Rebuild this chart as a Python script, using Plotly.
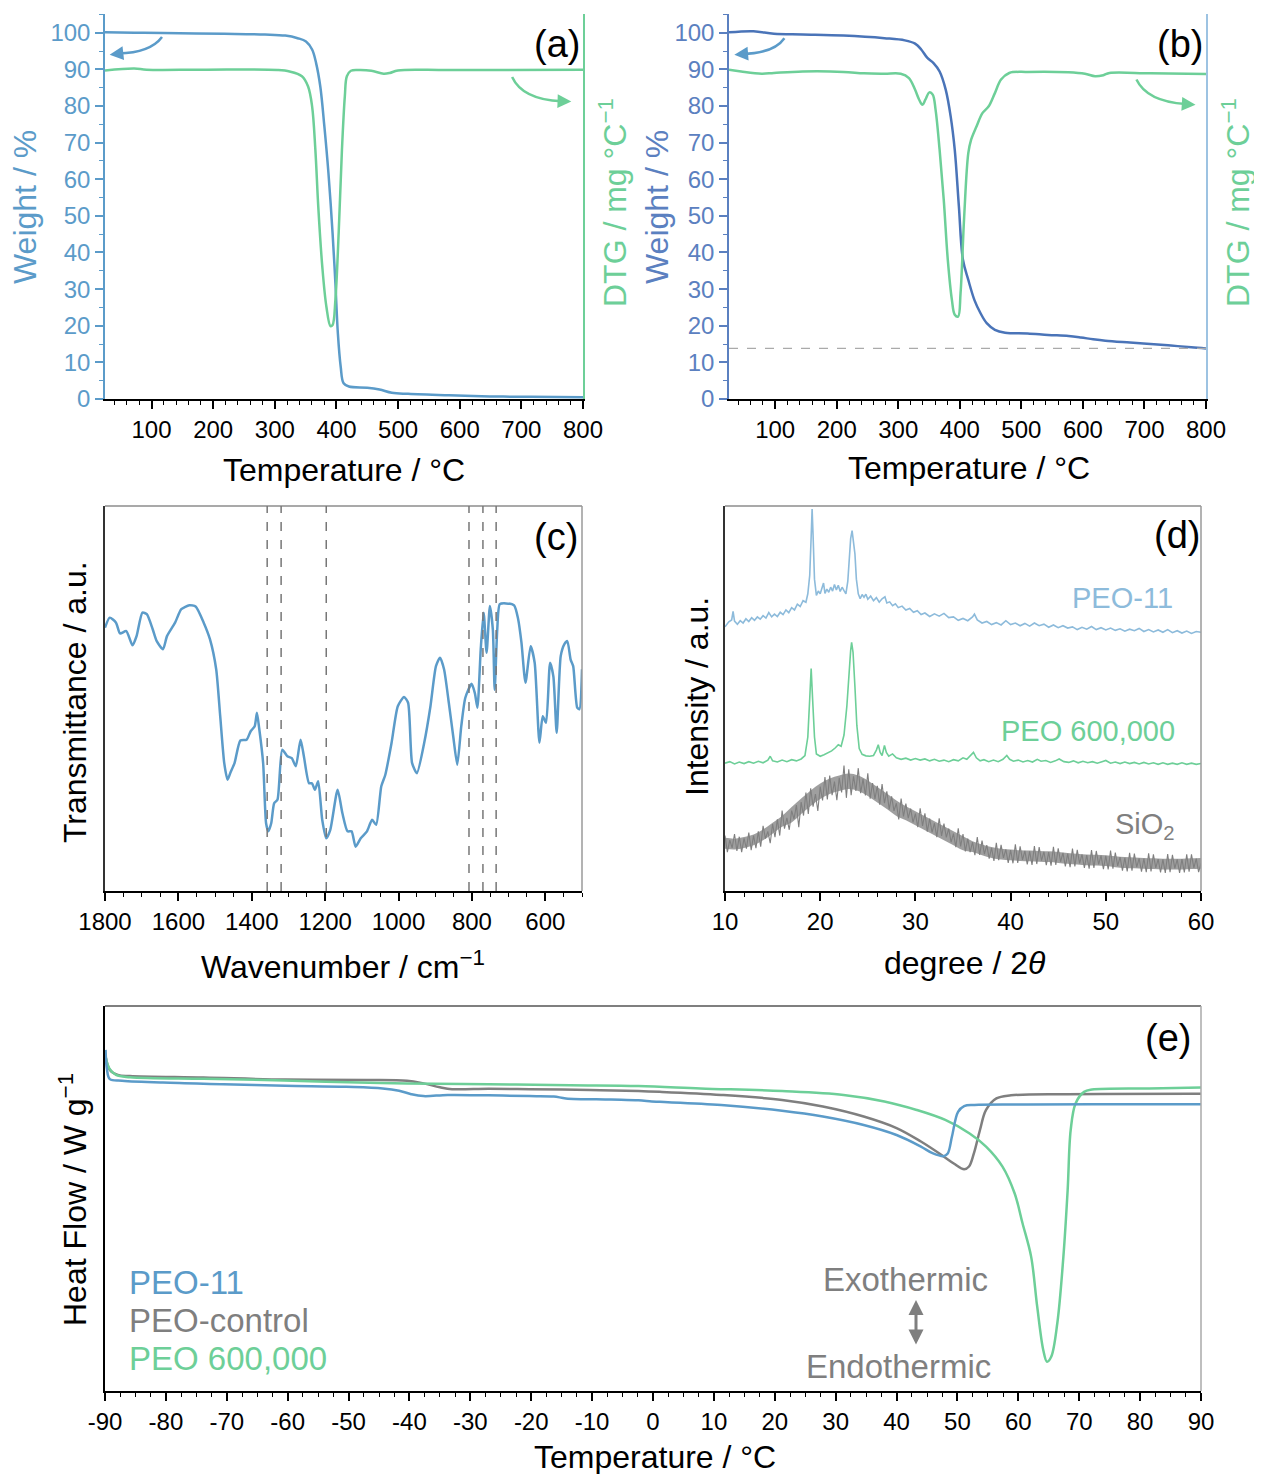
import plotly.graph_objects as go

# page size; the browser puts an 8 px body margin round the plot div
W, H = 1262, 1474
PAGE_OFF = 8
FW, FH = W - PAGE_OFF, H - PAGE_OFF

# ---------------- data ----------------
# (a) TGA of PEO-11
a_temp = [24.5, 72, 118.6, 218, 284, 317, 337, 350.6, 360.5, 367, 373.8, 380.4, 387, 393.7, 398.3,
          402.3, 406.9, 411.6, 420.2, 450, 469.9, 489.8, 516.3, 582.6, 648.9, 715.2, 800]
a_weight = [100.1, 100.0, 99.9, 99.7, 99.5, 99.2, 98.5, 97.6, 95.4, 91.7, 85.3, 74.4, 61.7, 45.3, 31.6,
            17.9, 8.8, 4.3, 3.4, 3.1, 2.6, 1.7, 1.4, 1.0, 0.7, 0.6, 0.5]
a_dtg_temp = [24.5, 72, 92, 184.9, 304, 324, 344, 354, 360.5, 365.8, 370.5, 377, 383.7, 390.3, 393.7,
              398.3, 403.6, 408.9, 413.6, 416.9, 423.5, 436.8, 456.6, 476.5, 486.5, 499.7, 582.6, 800]
a_dtg = [89.7, 90.2, 89.9, 89.9, 89.8, 89.4, 88.1, 85.3, 79.9, 68.0, 52.5, 36.2, 25.2, 19.9, 20.2,
         27.1, 45.3, 68.0, 82.6, 88.1, 89.6, 89.8, 89.6, 88.8, 89.0, 89.7, 89.8, 89.9]

# (b) TGA of the composite
b_temp = [25, 64.8, 98, 144.5, 211, 277.5, 310.7, 327.4, 337.3, 347.3, 357.3, 367.2, 377.2, 385.2,
          391.8, 398.5, 405.1, 413.8, 423.8, 433.7, 443.7, 457, 473.6, 510.2, 543.4, 576.7, 596.6,
          616.6, 636.5, 676.4, 709.6, 742.9, 776.1, 800]
b_weight = [100.1, 100.4, 99.7, 99.5, 99.2, 98.5, 97.9, 97.0, 95.4, 93.1, 91.7, 89.4, 84.4, 77.1,
            68.0, 52.6, 38.0, 32.5, 27.0, 23.4, 20.7, 18.9, 18.1, 17.9, 17.5, 17.2, 16.8,
            16.3, 15.9, 15.4, 15.0, 14.6, 14.1, 13.8]
b_dtg_temp = [25, 44.8, 78, 98, 144.5, 211, 244.3, 277.5, 304, 317.4, 327.4, 334, 339.3, 344, 350.6,
              356, 360.6, 367.2, 373.9, 380.5, 387.2, 391.8, 397.2, 401.2, 407.1, 413.8, 418.4,
              427.1, 437, 447, 457, 467, 480.3, 510.2, 576.7, 603.3, 619.9, 633.2, 643.1, 709.6, 800]
b_dtg = [89.9, 89.4, 88.8, 89.0, 89.4, 89.3, 88.9, 88.8, 88.8, 87.6, 84.4, 81.7, 80.3, 81.7, 83.7,
         83.1, 79.0, 68.0, 54.4, 38.0, 27.0, 23.0, 22.5, 28.9, 49.8, 67.1, 70.8,
         74.4, 78.1, 79.9, 83.5, 87.2, 89.0, 89.3, 89.2, 88.8, 88.1, 88.4, 89.0, 88.9, 88.7]
b_residue = 13.8

# (c) FTIR
c_wn = [1800, 1787, 1770, 1759, 1742, 1725, 1714, 1698, 1686, 1670, 1659, 1642, 1631, 1609, 1592,
        1570, 1553, 1531, 1514, 1497, 1486, 1475, 1466, 1458, 1447, 1431, 1414, 1403, 1392, 1386,
        1380, 1369, 1361, 1355, 1347, 1339, 1330, 1317, 1303, 1291, 1280, 1267, 1258, 1244, 1236,
        1228, 1219, 1208, 1197, 1186, 1166, 1153, 1139, 1128, 1117, 1103, 1086, 1072, 1061, 1047,
        1036, 1019, 1002, 985, 974, 963, 950, 930, 913, 898, 887, 876, 863, 851, 840, 829, 818,
        801, 792, 785, 776, 768, 760, 751, 743, 738, 731, 724, 707, 685, 674, 665, 654, 640, 629,
        616, 607, 598, 587, 578, 569, 558, 548, 540, 531, 524, 513, 507, 500]
c_trans = [68.4, 71.0, 69.7, 66.9, 67.5, 63.8, 66.2, 72.3, 71.9, 68.0, 64.9, 62.8, 66.2, 69.7, 73.2,
           74.2, 73.9, 69.7, 65.4, 57.6, 45.4, 33.2, 28.9, 30.8, 33.2, 39.1, 39.3, 41.5, 42.8, 46.3,
           42.4, 33.2, 17.6, 15.5, 17.6, 22.8, 23.7, 36.7, 35.0, 34.5, 32.4, 39.3, 35.0, 28.0, 28.0,
           26.3, 28.5, 18.5, 13.7, 15.9, 26.3, 20.2, 15.5, 15.5, 11.5, 13.7, 15.5, 18.5, 17.2, 27.2,
           30.2, 38.5, 48.0, 50.4, 48.9, 33.2, 30.6, 38.5, 48.0, 58.4, 60.6, 57.6, 48.9, 40.2, 32.8,
           42.8, 50.2, 53.8, 51.4, 47.6, 62.8, 72.3, 61.9, 74.0, 67.9, 52.3, 67.9, 74.5, 74.7, 74.2,
           70.6, 64.5, 54.1, 63.6, 59.3, 38.5, 45.4, 43.7, 59.3, 55.7, 41.1, 61.0, 64.1, 64.9, 60.1,
           58.4, 47.6, 47.2, 57.6]
c_bands = [1358, 1320, 1197, 808, 770, 734]

# (d) XRD
d_peo11_x = [10.0, 10.4, 10.7, 10.85, 11.0, 11.3, 11.6, 11.9, 12.2, 12.5, 12.8, 13.1, 13.4, 13.7,
             14.0, 14.3, 14.6, 14.9, 15.2, 15.5, 15.8, 16.1, 16.4, 16.7, 17.0, 17.3, 17.6, 17.9,
             18.2, 18.5, 18.7, 18.9, 19.05, 19.15, 19.25, 19.4, 19.6, 19.8, 20.0, 20.2, 20.35,
             20.5, 20.7, 20.9, 21.1, 21.3, 21.5, 21.7, 21.9, 22.1, 22.3, 22.5, 22.7, 22.9, 23.05,
             23.2, 23.35, 23.5, 23.65, 23.8, 24.0, 24.2, 24.4, 24.6, 24.8, 25.0, 25.3, 25.6, 25.9,
             26.2, 26.5, 26.8, 27.0, 27.3, 27.6, 27.9, 28.2, 28.6, 29.0, 29.4, 29.8, 30.2, 30.6,
             31.0, 31.5, 32.0, 32.5, 33.0, 33.5, 34.0, 34.5, 35.0, 35.5, 36.0, 36.2, 36.5, 37.0,
             37.5, 38.0, 38.5, 39.0, 39.5, 40.0, 40.5, 41.0, 41.5, 42.0, 42.5, 43.0, 43.5, 44.0,
             44.5, 45.0, 45.5, 46.0, 46.5, 47.0, 47.5, 48.0, 48.5, 49.0, 49.5, 50.0, 50.5, 51.0,
             51.5, 52.0, 52.5, 53.0, 53.5, 54.0, 54.5, 55.0, 55.5, 56.0, 56.5, 57.0, 57.5, 58.0,
             58.5, 59.0, 59.5, 60.0]
d_peo11_y = [68.6, 69.9, 70.4, 72.6, 70.1, 69.3, 70.2, 69.6, 70.7, 70.0, 71.0, 70.3, 71.2, 70.6,
             71.5, 70.9, 72.3, 71.2, 71.9, 71.3, 72.4, 71.8, 73.0, 72.3, 73.6, 73.0, 74.5, 73.9,
             75.4, 75.0, 77.2, 82.0, 92.0, 99.2, 92.5, 81.0, 76.8, 77.9, 77.2, 78.6, 80.0,
             77.3, 78.4, 77.6, 78.9, 77.9, 79.6, 78.2, 79.4, 77.8, 78.9, 78.0, 77.2, 80.5, 87.0,
             91.5, 93.6, 90.5, 87.5, 81.0, 77.2, 75.9, 77.0, 76.3, 77.1, 75.8, 76.6, 75.4, 76.2,
             75.0, 75.9, 76.4, 74.8, 75.1, 74.1, 74.6, 73.6, 74.0, 73.0, 73.4, 72.4, 72.8, 71.8,
             72.2, 71.3, 72.0, 71.4, 72.1, 71.0, 71.2, 70.3, 70.8, 70.2, 71.2, 71.9, 70.4, 69.6,
             70.0, 69.2, 69.7, 69.1, 70.2, 69.2, 69.6, 68.9, 69.5, 68.8, 69.6, 68.9, 69.3, 68.5,
             69.1, 68.4, 68.9, 68.3, 68.6, 67.9, 68.5, 68.0, 68.7, 67.9, 68.4, 67.8, 68.3, 67.7,
             68.1, 67.5, 68.0, 67.6, 68.2, 67.4, 67.9, 67.3, 67.8, 67.2, 67.9, 67.1, 67.6, 67.0,
             67.5, 66.9, 67.4, 67.2]
d_peo600_x = [10.0, 10.5, 11.0, 11.5, 12.0, 12.5, 13.0, 13.5, 14.0, 14.5, 14.75, 15.0, 15.5, 16.0,
              16.5, 17.0, 17.5, 18.0, 18.4, 18.7, 18.9, 19.05, 19.2, 19.4, 19.6, 20.0, 20.4, 20.8,
              21.2, 21.6, 21.9, 22.2, 22.5, 22.8, 23.0, 23.2, 23.3, 23.45, 23.65, 23.85, 24.1,
              24.4, 24.8, 25.2, 25.6, 25.9, 26.1, 26.3, 26.5, 26.75, 26.95, 27.2, 27.6, 28.0, 28.5,
              29.0, 29.5, 30.0, 30.5, 31.0, 31.5, 32.0, 32.5, 33.0, 33.5, 34.0, 34.5, 35.0, 35.4,
              35.9, 36.1, 36.4, 36.8, 37.2, 37.7, 38.2, 38.7, 39.2, 39.6, 39.9, 40.3, 40.8, 41.3,
              41.8, 42.3, 42.8, 43.2, 43.7, 44.2, 44.7, 45.1, 45.6, 46.1, 46.6, 47.1, 47.6, 48.1,
              48.6, 49.1, 49.6, 50.0, 50.5, 51.0, 51.5, 52.0, 52.5, 53.0, 53.5, 54.0, 54.5, 55.0,
              55.5, 56.0, 56.5, 57.0, 57.5, 58.0, 58.5, 59.0, 59.5, 60.0]
d_peo600_y = [33.2, 33.6, 33.0, 33.5, 33.1, 33.6, 33.2, 33.7, 33.3, 34.0, 35.0, 33.8, 33.5, 34.0,
              33.6, 34.1, 33.8, 34.3, 35.2, 40.0, 50.0, 57.8, 50.0, 40.0, 35.6, 35.0, 35.4, 35.8,
              36.4, 37.2, 38.0, 37.6, 40.5, 48.0, 56.0, 62.5, 64.6, 62.0, 53.0, 43.0, 37.0,
              35.5, 35.1, 35.0, 35.2, 36.6, 38.0, 36.0, 35.2, 37.8, 36.0, 35.0, 35.6, 34.6, 34.2,
              34.5, 34.0, 34.4, 34.0, 34.3, 33.8, 34.2, 33.7, 34.0, 33.6, 34.1, 33.8, 34.6, 34.2,
              35.4, 36.0, 34.6, 33.8, 34.1, 33.6, 34.0, 33.6, 34.2, 35.2, 34.2, 33.7, 34.0, 33.5,
              33.9, 33.5, 34.2, 33.7, 33.9, 33.4, 33.8, 34.3, 33.6, 33.4, 33.8, 33.3, 33.7, 33.3,
              33.6, 33.2, 33.6, 33.9, 33.2, 33.5, 33.1, 33.5, 33.1, 33.4, 33.0, 33.4, 33.0, 33.3,
              32.9, 33.3, 32.9, 33.2, 32.9, 33.3, 32.9, 33.2, 32.9, 33.1]
# SiO2 scan: one reading every 0.25 degree starting at 10 degrees
d_sio2_start, d_sio2_step = 10.0, 0.25
d_sio2_y = [14.4, 10.1, 13.2, 11.2, 14.8, 10.4, 14.1, 10.1, 13.7, 11.0, 15.2, 10.6,
            14.4, 11.1, 15.5, 11.5, 16.9, 13.6, 15.5, 12.4, 17.4, 14.0, 18.6, 14.4,
            20.9, 16.2, 19.0, 15.9, 20.9, 18.7, 22.3, 16.6, 23.1, 19.6, 25.6, 20.0,
            26.7, 21.9, 25.2, 20.8, 27.1, 23.5, 29.6, 23.8, 30.0, 24.9, 28.4, 23.6,
            29.4, 25.6, 32.6, 24.2, 31.6, 24.9, 29.8, 26.0, 31.9, 25.4, 29.1, 24.8,
            30.6, 24.0, 28.0, 23.9, 27.3, 22.4, 27.8, 22.8, 25.9, 21.2, 24.6, 20.8,
            22.8, 18.6, 24.0, 19.4, 22.7, 18.9, 21.4, 17.8, 20.1, 16.6, 21.5, 16.9,
            20.2, 15.4, 18.8, 15.2, 17.6, 14.0, 18.9, 14.3, 17.5, 13.9, 16.2, 12.7,
            14.9, 11.4, 16.3, 11.6, 14.8, 10.3, 13.6, 10.1, 12.7, 9.3, 14.0, 9.4,
            13.1, 9.6, 11.9, 8.4, 11.2, 7.8, 12.5, 8.0, 12.0, 8.6, 10.8, 7.3,
            10.6, 7.2, 12.1, 7.3, 11.6, 8.1, 10.4, 6.9, 10.3, 6.8, 11.7, 7.0,
            11.4, 7.9, 10.2, 6.7, 10.1, 6.6, 11.5, 6.8, 11.1, 7.6, 9.9, 6.4,
            9.7, 6.2, 11.0, 6.4, 10.7, 7.2, 9.5, 6.0, 9.3, 5.8, 10.6, 6.0,
            10.4, 6.9, 9.2, 5.7, 9.1, 5.6, 10.5, 5.8, 10.0, 6.5, 8.8, 5.3,
            8.6, 5.1, 9.9, 5.3, 9.7, 6.2, 8.5, 5.0, 8.4, 4.9, 9.8, 5.1,
            9.5, 6.0, 8.3, 4.8, 8.2, 4.7, 9.6, 4.9, 9.4, 5.9, 8.2, 4.7,
            8.3, 4.8, 9.5, 5.0, 9.5, 6.0, 8.4, 4.9, 7.2]
d_sio2_x = [d_sio2_start + d_sio2_step * i for i in range(len(d_sio2_y))]
# envelope of the dense SiO2 noise band, one value per degree (10..60)
d_sio2_env_x = list(range(10, 61))
d_sio2_upper = [13.8, 13.6, 14.0, 14.7, 16.0, 17.7, 19.5,
                21.8, 24.0, 26.1, 27.9, 29.2, 30.0, 30.5, 30.0, 28.7, 27.0, 25.3, 23.5,
                22.0, 20.7, 19.4, 18.1, 16.8, 15.5, 14.2,
                12.9, 12.1, 11.4, 11.0, 10.8, 10.6, 10.5, 10.4, 10.3, 10.1, 9.9, 9.7, 9.5, 9.4,
                9.3, 9.0, 8.8, 8.7, 8.6, 8.5, 8.4, 8.4, 8.4, 8.5, 8.6]
d_sio2_lower = [11.0, 10.8, 11.2, 11.9, 13.2, 14.9, 16.7,
                17.8, 20.0, 22.1, 23.9, 25.2, 26.0, 26.5, 26.0, 24.7, 23.0, 21.3, 19.5,
                18.4, 17.1, 15.8, 14.5, 13.2, 11.9, 10.6,
                10.1, 9.3, 8.6, 8.2, 8.0, 7.8, 7.7, 7.6, 7.5, 7.3, 7.1, 6.9, 6.7, 6.6,
                6.5, 6.2, 6.0, 5.9, 5.8, 5.7, 5.6, 5.6, 5.6, 5.7, 5.8]

# (e) DSC
e_peo11_t = [-89.9, -89.7, -89.2, -87.2, -80.5, -70.5, -60.4, -50.4, -44.4, -41.7, -39.7, -37.7,
             -33.7, -27.0, -20.3, -16.3, -14.3, -6.9, -2.4, -0.2, 1.1, 11.2, 21.2, 27.9, 34.6,
             40.0, 44.0, 46.0, 47.7, 48.4, 49.1, 50.1, 51.1, 52.8, 61.5, 74.9, 90]
e_peo11_h = [88.6, 83.8, 81.0, 80.6, 80.1, 79.7, 79.3, 79.0, 78.6, 78.0, 77.1, 76.6,
             76.9, 76.8, 76.6, 76.5, 76.0, 75.7, 75.5, 75.2, 75.1, 74.3, 72.8, 71.3, 69.1,
             66.5, 63.5, 61.7, 61.0, 61.7, 66.1, 72.5, 74.0, 74.3, 74.4, 74.5, 74.5]
e_ctrl_t = [-89.9, -89.2, -87.9, -85.9, -73.8, -60.4, -47.1, -40.4, -37.7, -35.0, -33.0, -27.0,
            -20.3, -10.3, -2.4, 1.1, 11.2, 21.2, 27.9, 34.6, 40.0, 44.0, 47.4, 49.4, 51.1, 51.9,
            52.7, 53.7, 54.7, 56.4, 58.8, 68.1, 90]
e_ctrl_h = [86.8, 83.4, 82.1, 81.8, 81.4, 80.9, 80.8, 80.6, 79.9, 78.9, 78.4, 78.5,
            78.4, 78.2, 77.9, 77.7, 76.9, 75.6, 73.9, 71.3, 68.3, 64.8, 61.3, 59.1, 57.6, 58.3,
            61.7, 67.8, 73.0, 76.0, 76.8, 77.1, 77.2]
e_peo600_t = [-89.9, -89.3, -88.2, -85.9, -73.8, -63.8, -53.7, -40.4, -27.0, -13.6, -2.4, 7.8, 21.2,
              31.3, 38.0, 43.3, 48.0, 52.0, 54.7, 57.4, 59.4, 60.7, 62.1, 63.1, 64.1, 64.7, 65.4,
              66.4, 67.4, 68.1, 68.6, 69.4, 70.8, 72.1, 81.5, 90]
e_peo600_h = [86.8, 83.8, 82.1, 81.5, 81.1, 80.8, 80.3, 79.9, 79.7, 79.4, 79.2, 78.6, 77.9,
              76.9, 75.2, 73.0, 70.4, 66.9, 63.5, 58.3, 51.3, 43.5, 34.9, 21.9, 10.6, 7.6, 8.9,
              17.6, 34.9, 52.2, 67.8, 74.7, 77.7, 78.3, 78.6, 78.8]
e_tickvals = [-90, -80, -70, -60, -50, -40, -30, -20, -10, 0, 10, 20, 30, 40, 50, 60, 70, 80, 90]
e_ticktext = ["-90", "-80", "-70", "-60", "-50", "-40", "-30", "-20", "-10", "0",
              "10", "20", "30", "40", "50", "60", "70", "80", "90"]

# ---------------- styling ----------------
BLUE = "#5B9BC9"
BLUE_DARK = "#4A74B8"
BLUE_AX_B = "#5B80C0"
BLUE_LIGHT = "#8DBBDB"
GREEN = "#6DCF98"
GRAY = "#7F7F7F"
FONT = "Liberation Sans, Arial, sans-serif"
TICK_SIZE = 24
TITLE_SIZE = 32


# page pixel -> paper fraction
def fx(p):
    return (p - PAGE_OFF) / FW


def fy(p):
    return 1 - (p - PAGE_OFF) / FH


def dom_x(a, b):
    return [fx(a), fx(b)]


def dom_y(top, bottom):
    return [fy(bottom), fy(top)]


tick_font = dict(family=FONT, size=TICK_SIZE, color="black")


def bottom_axis(domain, rng, anchor, dtick, minor, tick0=0, **kw):
    d = dict(domain=domain, range=rng, anchor=anchor, showline=True, linecolor="black", linewidth=1.5,
             ticks="outside", ticklen=8, tickwidth=1.5, tickcolor="black", dtick=dtick, tick0=tick0,
             minor=dict(dtick=minor, tick0=tick0, ticks="outside", ticklen=4, tickwidth=1.2,
                        tickcolor="black", showgrid=False),
             showgrid=False, zeroline=False, tickfont=tick_font, automargin=False)
    d.update(kw)
    return d


fig = go.Figure()

# (a)
fig.add_trace(go.Scatter(x=a_temp, y=a_weight, mode="lines", line=dict(color=BLUE, width=2.5, shape="spline"),
                         xaxis="x", yaxis="y", showlegend=False))
fig.add_trace(go.Scatter(x=a_dtg_temp, y=a_dtg, mode="lines", line=dict(color=GREEN, width=2.5, shape="spline"),
                         xaxis="x", yaxis="y2", showlegend=False))
# (b)
fig.add_trace(go.Scatter(x=b_temp, y=b_weight, mode="lines", line=dict(color=BLUE_DARK, width=2.5, shape="spline"),
                         xaxis="x2", yaxis="y3", showlegend=False))
fig.add_trace(go.Scatter(x=b_dtg_temp, y=b_dtg, mode="lines", line=dict(color=GREEN, width=2.5, shape="spline"),
                         xaxis="x2", yaxis="y4", showlegend=False))
# (c)
fig.add_trace(go.Scatter(x=c_wn, y=c_trans, mode="lines",
                         line=dict(color=BLUE, width=2.5, shape="spline", smoothing=0.6),
                         xaxis="x3", yaxis="y5", showlegend=False))
# (d)
fig.add_trace(go.Scatter(x=d_sio2_env_x, y=d_sio2_lower, mode="lines",
                         line=dict(width=0, color=GRAY, shape="spline"),
                         xaxis="x4", yaxis="y6", showlegend=False, hoverinfo="skip"))
fig.add_trace(go.Scatter(x=d_sio2_env_x, y=d_sio2_upper, mode="lines",
                         line=dict(width=0, color=GRAY, shape="spline"),
                         fill="tonexty", fillcolor="rgba(127,127,127,0.75)",
                         xaxis="x4", yaxis="y6", showlegend=False, hoverinfo="skip"))
fig.add_trace(go.Scatter(x=d_sio2_x, y=d_sio2_y, mode="lines", line=dict(color=GRAY, width=1.1),
                         xaxis="x4", yaxis="y6", showlegend=False))
fig.add_trace(go.Scatter(x=d_peo600_x, y=d_peo600_y, mode="lines", line=dict(color=GREEN, width=1.6),
                         xaxis="x4", yaxis="y6", showlegend=False))
fig.add_trace(go.Scatter(x=d_peo11_x, y=d_peo11_y, mode="lines", line=dict(color=BLUE_LIGHT, width=1.6),
                         xaxis="x4", yaxis="y6", showlegend=False))
# (e)
fig.add_trace(go.Scatter(x=e_ctrl_t, y=e_ctrl_h, mode="lines", line=dict(color=GRAY, width=2.5, shape="spline"),
                         xaxis="x5", yaxis="y7", showlegend=False))
fig.add_trace(go.Scatter(x=e_peo600_t, y=e_peo600_h, mode="lines", line=dict(color=GREEN, width=2.5, shape="spline"),
                         xaxis="x5", yaxis="y7", showlegend=False))
fig.add_trace(go.Scatter(x=e_peo11_t, y=e_peo11_h, mode="lines", line=dict(color=BLUE, width=2.5, shape="spline"),
                         xaxis="x5", yaxis="y7", showlegend=False))

TOP_AB, BOT_AB = 14, 399
TOP_CD, BOT_CD = 506, 891
TOP_E, BOT_E = 1006, 1391
tga_range = [0, 105.1]


def tga_left(domain, anchor, color):
    return dict(domain=domain, range=tga_range, anchor=anchor, showline=True, linecolor=color, linewidth=1.5,
                ticks="outside", ticklen=8, tickwidth=1.5, tickcolor=color, dtick=10, tick0=0,
                minor=dict(dtick=5, ticks="outside", ticklen=4, tickwidth=1.2, tickcolor=color),
                showgrid=False, zeroline=False, tickfont=dict(family=FONT, size=TICK_SIZE, color=color),
                automargin=False)


def tga_right(overlay, anchor, color):
    return dict(overlaying=overlay, side="right", anchor=anchor, range=tga_range, showline=True,
                linecolor=color, linewidth=1.5, ticks="", showticklabels=False, showgrid=False,
                zeroline=False, automargin=False)


def top_ticks(overlay, anchor, rng):
    return dict(overlaying=overlay, side="top", anchor=anchor, range=rng, showline=True, linecolor="black",
                linewidth=1.5, ticks="inside", ticklen=8, tickwidth=1.5, tickcolor="black", dtick=100, tick0=0,
                minor=dict(dtick=20, tick0=0, ticks="inside", ticklen=4, tickwidth=1.2, tickcolor="black"),
                showticklabels=False, showgrid=False, zeroline=False, automargin=False)


plain_y = dict(showline=True, linecolor="#333333", linewidth=1.5, ticks="", showticklabels=False,
               showgrid=False, zeroline=False, range=[0, 100], automargin=False)

fig.update_layout(
    width=FW, height=FH,
    margin=dict(l=0, r=0, t=0, b=0, autoexpand=False),
    plot_bgcolor="white", paper_bgcolor="white",
    font=dict(family=FONT, color="black"),
    xaxis=bottom_axis(dom_x(105, 583), [24.5, 800], "y", 100, 20),
    yaxis=tga_left(dom_y(TOP_AB, BOT_AB), "x", BLUE),
    yaxis2=tga_right("y", "x", GREEN),
    xaxis2=bottom_axis(dom_x(729, 1206), [25, 800], "y3", 100, 20),
    yaxis3=tga_left(dom_y(TOP_AB, BOT_AB), "x2", BLUE_AX_B),
    yaxis4=tga_right("y3", "x2", "#9DC3E2"),
    xaxis6=top_ticks("x", "y", [24.5, 800]),
    xaxis7=top_ticks("x2", "y3", [25, 800]),
    xaxis3=bottom_axis(dom_x(105, 582), [1800, 500], "y5", 200, 50),
    yaxis5=dict(plain_y, domain=dom_y(TOP_CD, BOT_CD), anchor="x3"),
    xaxis4=bottom_axis(dom_x(725, 1201), [10, 60], "y6", 10, 2),
    yaxis6=dict(plain_y, domain=dom_y(TOP_CD, BOT_CD), anchor="x4"),
    xaxis5=bottom_axis(dom_x(105, 1201), [-90, 90], "y7", 10, 2.5, tickmode="array",
                       tickvals=e_tickvals, ticktext=e_ticktext),
    yaxis7=dict(plain_y, domain=dom_y(TOP_E, BOT_E), anchor="x5", linecolor="black"),
)
fig.layout.xaxis5.minor.tickmode = "linear"

shapes = []
# borders for (c), (d), (e)
for (l, r, t, b, ctop, cright) in [(105, 582, TOP_CD, BOT_CD, "#8C8C8C", "#9A9A9A"),
                                    (725, 1201, TOP_CD, BOT_CD, "#8C8C8C", "#9A9A9A"),
                                    (105, 1201, TOP_E, BOT_E, "#555555", "#AAAAAA")]:
    shapes.append(dict(type="line", xref="paper", yref="paper", x0=fx(l), x1=fx(r), y0=fy(t), y1=fy(t),
                       line=dict(color=ctop, width=1.5)))
    shapes.append(dict(type="line", xref="paper", yref="paper", x0=fx(r), x1=fx(r), y0=fy(t), y1=fy(b),
                       line=dict(color=cright, width=1.5)))
# FTIR band markers
for wn in c_bands:
    shapes.append(dict(type="line", xref="x3", yref="y5 domain", x0=wn, x1=wn, y0=0, y1=1,
                       line=dict(color="#777777", width=1.5, dash="dash")))
# residue line in (b)
shapes.append(dict(type="line", xref="x2 domain", yref="y3", x0=0, x1=1, y0=b_residue, y1=b_residue,
                   line=dict(color="#AAAAAA", width=1.3, dash="dash")))
# curved arrows (TGA panels)
shapes.append(dict(type="path", xref="x", yref="y", path="M 117,98.8 Q 98,94.5 46,94.3",
                   line=dict(color=BLUE, width=2.5)))
shapes.append(dict(type="path", xref="x", yref="y", path="M 685,87.9 Q 702,81.7 765,81.3",
                   line=dict(color=GREEN, width=2.5)))
shapes.append(dict(type="path", xref="x2", yref="y3", path="M 115,98.5 Q 98,94.4 47,94.2",
                   line=dict(color=BLUE, width=2.5)))
shapes.append(dict(type="path", xref="x2", yref="y3", path="M 687,87.2 Q 704,81.2 767,80.5",
                   line=dict(color=GREEN, width=2.5)))
fig.update_layout(shapes=shapes)

ann = []


def text(x, y, s, size, color="black", angle=0, xanchor="center"):
    ann.append(dict(x=fx(x), y=fy(y), xref="paper", yref="paper", text=s, showarrow=False,
                    font=dict(family=FONT, size=size, color=color), textangle=angle,
                    xanchor=xanchor, yanchor="middle"))


def head(xref, yref, x, y, ax, ay, color):
    ann.append(dict(x=x, y=y, ax=ax, ay=ay, xref=xref, yref=yref, axref=xref, ayref=yref, text="",
                    showarrow=True, arrowhead=2, arrowsize=1.1, arrowwidth=2.5, arrowcolor=color))


head("x", "y", 32, 94.0, 48, 94.3, BLUE)
head("x", "y", 781, 81.2, 763, 81.3, GREEN)
head("x2", "y3", 33.7, 94.0, 49, 94.2, BLUE)
head("x2", "y3", 783, 80.3, 765, 80.5, GREEN)

# panel letters
text(557, 44, "(a)", 38)
text(1180, 44, "(b)", 38)
text(556, 537, "(c)", 38)
text(1177, 535, "(d)", 38)
text(1168, 1038, "(e)", 38)

# axis titles
text(344, 470, "Temperature / °C", TITLE_SIZE)
text(969, 468, "Temperature / °C", TITLE_SIZE)
text(343, 965, "Wavenumber / cm<sup>−1</sup>", TITLE_SIZE)
text(965, 963, "degree / 2<i>θ</i>", TITLE_SIZE)
text(655, 1457, "Temperature / °C", TITLE_SIZE)
text(25, 207, "Weight / %", TITLE_SIZE, BLUE, -90)
text(613, 203, "DTG / mg °C<sup>−1</sup>", TITLE_SIZE, GREEN, -90)
text(657, 207, "Weight / %", TITLE_SIZE, BLUE_AX_B, -90)
text(1236, 203, "DTG / mg °C<sup>−1</sup>", TITLE_SIZE, GREEN, -90)
text(75, 702, "Transmittance / a.u.", TITLE_SIZE, "black", -90)
text(697, 697, "Intensity / a.u.", TITLE_SIZE, "black", -90)
text(73, 1200, "Heat Flow / W g<sup>−1</sup>", TITLE_SIZE, "black", -90)

# XRD labels
text(1122, 598, "PEO-11", 29, BLUE_LIGHT)
text(1088, 731, "PEO 600,000", 29, GREEN)
text(1145, 826, "SiO<sub>2</sub>", 29, GRAY)

# DSC labels
text(127, 1282, "PEO-11", 33, BLUE, xanchor="left")
text(127, 1320, "PEO-control", 33, GRAY, xanchor="left")
text(127, 1358, "PEO 600,000", 33, GREEN, xanchor="left")
text(905, 1279, "Exothermic", 33, GRAY)
text(898, 1366, "Endothermic", 33, GRAY)
ann.append(dict(x=fx(916), y=fy(1300), xref="paper", yref="paper", ax=0, ay=46, text="", showarrow=True,
                arrowhead=2, startarrowhead=2, arrowside="end+start", arrowsize=1.0, startarrowsize=1.0,
                arrowwidth=3, arrowcolor=GRAY))

fig.update_layout(annotations=ann)

# keep the browser from adding scrollbars that would cut the right edge
fig.write_html("out.html",
               post_script="document.documentElement.style.overflow='hidden';"
                           "document.body.style.overflow='hidden';")
